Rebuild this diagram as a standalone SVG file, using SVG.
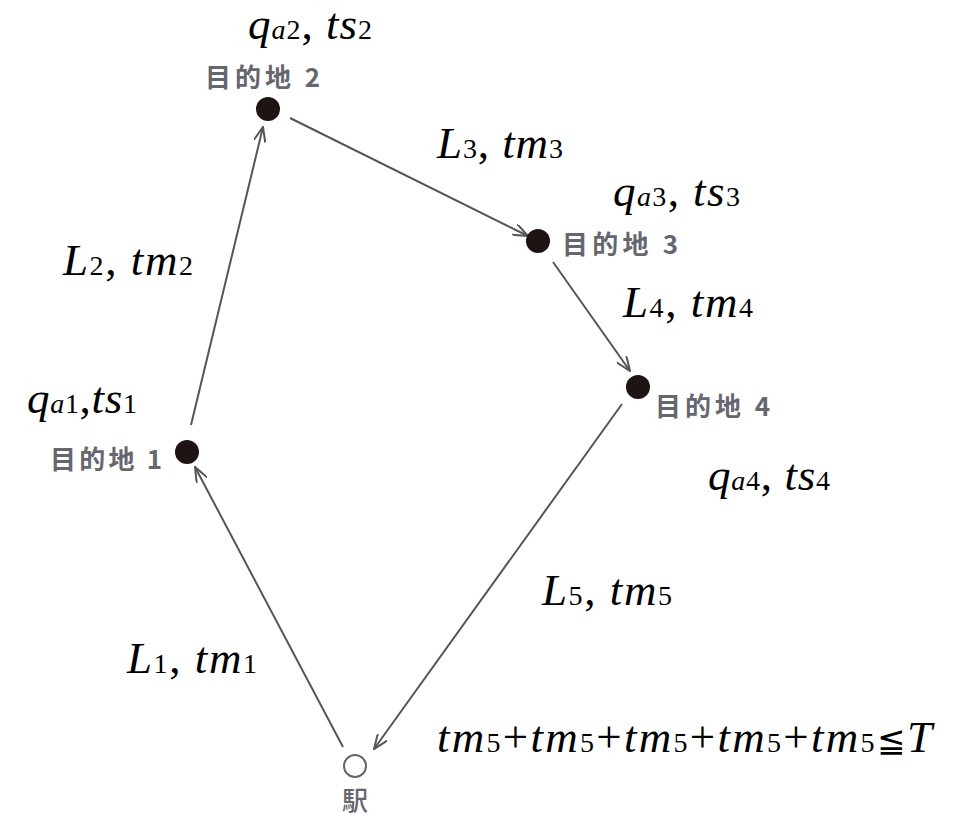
<svg xmlns="http://www.w3.org/2000/svg" width="954" height="818" viewBox="0 0 954 818">
<style>
.m{font-family:'Liberation Serif',serif;font-size:45px;font-style:italic;fill:#000}
.s{font-size:28px;font-style:normal}
.si{font-size:28px;font-style:italic}
.p{font-style:normal}
.jp{font-family:'Noto Sans CJK JP',sans-serif;font-size:26px;font-weight:bold;fill:#66666f}
.edge{stroke:#555;stroke-width:2;fill:none;marker-end:url(#ah)}
.dot{fill:#1e1414}
</style>
<defs>
<marker id="ah" viewBox="0 0 16 12" refX="15" refY="6" markerWidth="16" markerHeight="12" markerUnits="userSpaceOnUse" orient="auto">
<path d="M0,0 L15,6 L0,12" fill="none" stroke="#555" stroke-width="2"/>
</marker>
</defs>
<rect width="954" height="818" fill="#fff"/>
<g id="connectors">
<line class="edge" x1="343" y1="747" x2="195" y2="467"/>
<line class="edge" x1="191" y1="425" x2="263" y2="127"/>
<line class="edge" x1="290" y1="118" x2="528" y2="236"/>
<line class="edge" x1="553" y1="262" x2="630" y2="371"/>
<line class="edge" x1="622" y1="404" x2="374" y2="749"/>
</g>
<g id="station">
<circle cx="355" cy="766" r="11" fill="#fff" stroke="#666" stroke-width="2"/>
<text class="jp" x="342" y="810" style="font-weight:500;font-size:26px">駅</text>
</g>
<g id="dest1">
<circle class="dot" cx="187" cy="452" r="12"/>
<text class="jp" x="50" y="469" textLength="112" lengthAdjust="spacing">目的地 1</text>
<text class="m" x="27" y="413" textLength="110" lengthAdjust="spacing">q<tspan class="si">a</tspan><tspan class="s">1</tspan><tspan class="p">,</tspan>ts<tspan class="s">1</tspan></text>
</g>
<g id="dest2">
<circle class="dot" cx="268" cy="109" r="12"/>
<text class="jp" x="205" y="87" textLength="115" lengthAdjust="spacing">目的地 2</text>
<text class="m" x="248" y="39" textLength="124" lengthAdjust="spacing">q<tspan class="si">a</tspan><tspan class="s">2</tspan><tspan class="p">, </tspan>ts<tspan class="s">2</tspan></text>
</g>
<g id="dest3">
<circle class="dot" cx="538" cy="241" r="12"/>
<text class="jp" x="562" y="254" textLength="116" lengthAdjust="spacing">目的地 3</text>
<text class="m" x="613" y="206" textLength="127" lengthAdjust="spacing">q<tspan class="si">a</tspan><tspan class="s">3</tspan><tspan class="p">, </tspan>ts<tspan class="s">3</tspan></text>
</g>
<g id="dest4">
<circle class="dot" cx="638" cy="387" r="12"/>
<text class="jp" x="655" y="416" textLength="115" lengthAdjust="spacing">目的地 4</text>
<text class="m" x="708" y="490" textLength="122" lengthAdjust="spacing">q<tspan class="si">a</tspan><tspan class="s">4</tspan><tspan class="p">, </tspan>ts<tspan class="s">4</tspan></text>
</g>
<g id="edge-labels">
<text class="m" x="127" y="673" textLength="130" lengthAdjust="spacing">L<tspan class="s">1</tspan><tspan class="p">, </tspan>tm<tspan class="s">1</tspan></text>
<text class="m" x="63" y="275" textLength="130" lengthAdjust="spacing">L<tspan class="s">2</tspan><tspan class="p">, </tspan>tm<tspan class="s">2</tspan></text>
<text class="m" x="437" y="158" textLength="126" lengthAdjust="spacing">L<tspan class="s">3</tspan><tspan class="p">, </tspan>tm<tspan class="s">3</tspan></text>
<text class="m" x="623" y="317" textLength="130" lengthAdjust="spacing">L<tspan class="s">4</tspan><tspan class="p">, </tspan>tm<tspan class="s">4</tspan></text>
<text class="m" x="542" y="605" textLength="130" lengthAdjust="spacing">L<tspan class="s">5</tspan><tspan class="p">, </tspan>tm<tspan class="s">5</tspan></text>
</g>
<g id="constraint">
<text class="m" x="437" y="752" textLength="495" lengthAdjust="spacing">tm<tspan class="s">5</tspan><tspan class="p">+</tspan>tm<tspan class="s">5</tspan><tspan class="p">+</tspan>tm<tspan class="s">5</tspan><tspan class="p">+</tspan>tm<tspan class="s">5</tspan><tspan class="p">+</tspan>tm<tspan class="s">5</tspan><tspan class="p" style="font-size:34px">≦</tspan>T</text>
</g>
</svg>
